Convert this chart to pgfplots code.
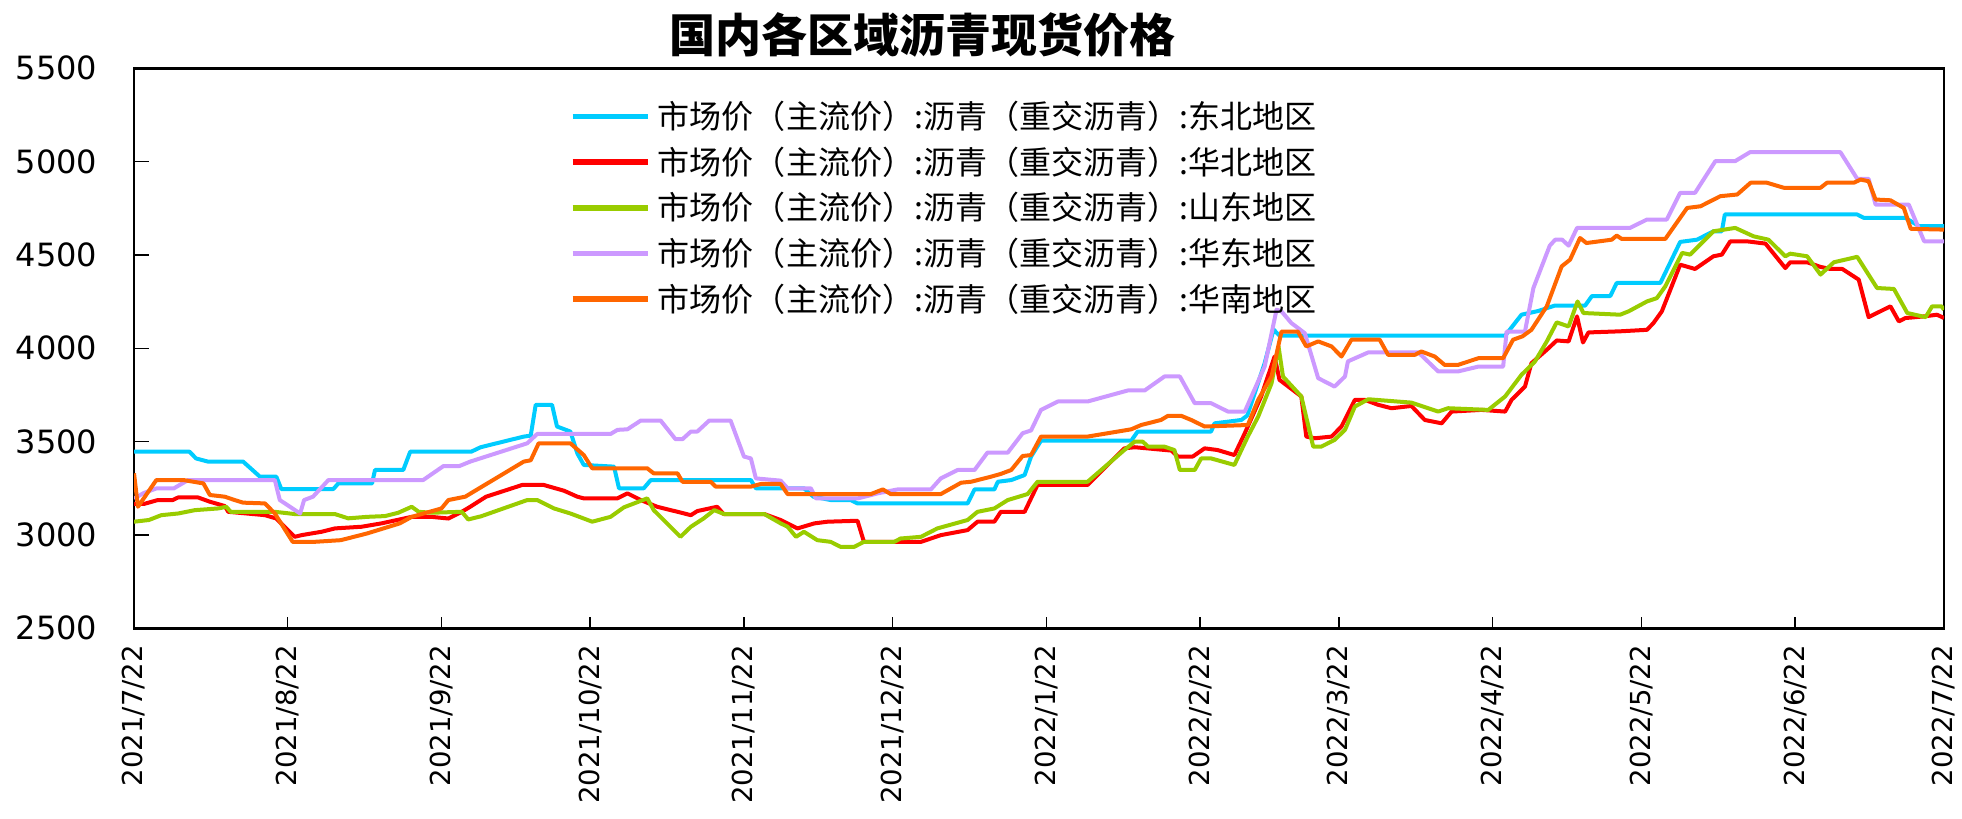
\documentclass[border=0pt]{standalone}
\usepackage{fontspec}
\setmainfont{DejaVu Sans}
\newfontfamily\cjk{Noto Sans CJK SC}
\usepackage{pgfplots}
\pgfplotsset{compat=1.18}
\definecolor{cNE}{RGB}{0,204,255}
\definecolor{cNC}{RGB}{255,0,0}
\definecolor{cSD}{RGB}{153,204,0}
\definecolor{cEC}{RGB}{204,153,255}
\definecolor{cSC}{RGB}{255,102,0}
\begin{document}
\begin{tikzpicture}
\path[use as bounding box] (-53.55pt,-75.95pt) rectangle (730.45pt,251.05pt);
\begin{axis}[
  at={(0pt,0pt)}, anchor=south west,
  scale only axis, width=723.25pt, height=223.75pt,
  xmin=0, xmax=365, ymin=2500, ymax=5500,
  xtick={0,31,62,92,123,153,184,215,243,274,304,335,365},
  xticklabels={2021/7/22,2021/8/22,2021/9/22,2021/10/22,2021/11/22,2021/12/22,2022/1/22,2022/2/22,2022/3/22,2022/4/22,2022/5/22,2022/6/22,2022/7/22},
  ytick={2500,3000,3500,4000,4500,5000,5500},
  scaled y ticks=false,
  /pgf/number format/.cd, 1000 sep={}, assume math mode=true, /pgfplots/.cd,
  tick align=inside, tick pos=left,
  xtick style={/pgfplots/major tick length=4.4pt, line width=0.6pt, black},
  ytick style={/pgfplots/major tick length=6pt, line width=0.6pt, black},
  axis line style={line width=1pt, black},
  xticklabel style={font=\fontsize{11}{13}\selectfont, rotate=90, anchor=east, inner sep=0pt},
  xticklabel shift=6.5pt,
  yticklabel style={font=\fontsize{12.8}{14}\selectfont, anchor=east, inner sep=0pt},
  yticklabel shift=14.5pt,
  title={国内各区域沥青现货价格},
  title style={at={(0.4355,1)}, anchor=base, yshift=0.3pt, inner sep=0pt, font=\cjk\bfseries\fontsize{18.4}{20}\selectfont},
  legend cell align=left,
  legend style={at={(0.2405,1)}, anchor=north west, yshift=-9.9pt, draw=none, fill=none, inner sep=0pt,
    row sep=0pt, column sep=3pt, font=\cjk\fontsize{12.8}{14}\selectfont,
    nodes={inner sep=0pt, text height=14pt, text depth=4.25pt}},
  legend image code/.code={\draw[#1, line width=2.2pt, line cap=butt] (0pt,0pt) -- (30pt,0pt);},
  every axis plot/.append style={line width=1.6pt, line join=round},
]
% 东北地区
\addplot[cNE] coordinates {(0,3446) (11.2,3446) (12.5,3410) (14.9,3393) (22,3393) (25.4,3312) (28.7,3312) (29.7,3246) (40.2,3246) (41.2,3276) (48,3276) (48.6,3348) (54.3,3348) (55.7,3446) (68,3446) (69.9,3470) (78.6,3527) (80,3532) (81,3697) (84.3,3697) (85.3,3581) (88,3554) (89.4,3437) (90.7,3375) (96.8,3366) (97.8,3250) (102.8,3250) (104.2,3294) (124.4,3294) (125.4,3250) (135.1,3250) (137,3205) (140.5,3187) (144.5,3187) (145.9,3169) (168.1,3169) (169.5,3244) (173.5,3244) (174.2,3285) (176.9,3294) (179.6,3321) (180.9,3420) (182.9,3505) (201.1,3505) (202.4,3554) (217.2,3554) (217.9,3598) (223.3,3616) (224.5,3640) (228,3920) (229.8,4100) (231,4068) (276.5,4068) (279.8,4180) (283.2,4200) (286.4,4228) (292.6,4228) (294,4280) (297.7,4280) (299,4350) (307.8,4350) (311.8,4570) (315.2,4582) (318.5,4627) (320.2,4627) (320.8,4717) (347.5,4717) (348.8,4699) (357.2,4699) (360,4654) (365,4654)};
\addlegendentry{市场价（主流价）:沥青（重交沥青）:东北地区}
% 华北地区
\addplot[cNC] coordinates {(0,3166) (2,3166) (4.8,3187) (7.8,3187) (8.9,3201) (12.9,3201) (15.3,3178) (18.3,3155) (19,3124) (26.4,3106) (28.7,3088) (32.4,2990) (33.8,2999) (37.8,3017) (40.5,3035) (45.9,3044) (49.9,3062) (56,3097) (60,3097) (63.4,3088) (66.1,3124) (67.8,3151) (71,3205) (78.3,3268) (82.6,3268) (86.7,3237) (89.4,3205) (90.7,3196) (97.5,3196) (99.5,3223) (102.2,3187) (105.5,3151) (109.6,3124) (112.3,3106) (113.6,3128) (117.6,3151) (118.9,3112) (127.1,3112) (130.4,3080) (133.8,3035) (137.2,3062) (139.9,3071) (145.9,3076) (147.2,2963) (158.7,2963) (162.7,2999) (168.1,3026) (170.1,3071) (173.5,3071) (174.8,3124) (179.6,3124) (182.2,3268) (192.3,3268) (199.7,3464) (201.8,3470) (209.2,3452) (210.5,3420) (213.5,3420) (215.9,3464) (218.5,3455) (221.9,3428) (224,3545) (227.3,3742) (230,3956) (231,3831) (235.4,3742) (236.4,3527) (238.1,3518) (241.5,3527) (243.5,3581) (246.2,3724) (248.2,3724) (250.9,3697) (253.6,3679) (257.6,3691) (260.3,3616) (263.7,3598) (265.7,3661) (271.7,3670) (276.5,3661) (277.8,3724) (280.5,3795) (281.8,3920) (284.9,3992) (286.9,4042) (289.3,4037) (291,4171) (292.2,4031) (293.3,4085) (299.7,4091) (305.1,4099) (306.4,4135) (308.1,4198) (311.8,4448) (314.8,4425) (318.5,4493) (320.2,4502) (321.9,4573) (325.3,4573) (329,4561) (333,4430) (334,4461) (337.4,4461) (340.1,4436) (342.1,4425) (344.5,4425) (347.8,4368) (349.8,4167) (354.2,4225) (355.9,4144) (357.2,4162) (361,4171) (363.6,4180) (365,4162)};
\addlegendentry{市场价（主流价）:沥青（重交沥青）:华北地区}
% 山东地区
\addplot[cSD] coordinates {(0,3071) (3,3080) (5.5,3106) (8.9,3115) (12.3,3133) (17,3142) (18.6,3151) (19.5,3124) (28.4,3124) (32.4,3112) (40.5,3112) (43.2,3089) (47,3097) (50.6,3101) (53.3,3119) (56,3151) (57.4,3124) (60,3119) (66.1,3124) (67.4,3083) (70,3100) (79.3,3187) (81.3,3187) (84.7,3142) (88,3115) (92.4,3071) (96.1,3097) (98.8,3148) (103.5,3196) (104.8,3133) (110.2,2990) (112.3,3044) (114.9,3089) (117,3133) (119,3112) (127.1,3112) (130.4,3062) (131.8,3044) (133.5,2990) (135.1,3017) (137.8,2972) (140.5,2963) (142.5,2936) (145.2,2936) (147.2,2963) (153.3,2963) (154.6,2981) (158.7,2990) (162,3035) (168.1,3080) (170.1,3124) (173.5,3142) (176.2,3187) (180.2,3219) (182.2,3285) (192.3,3285) (199.7,3455) (201.8,3500) (203.4,3500) (204.5,3473) (207.8,3473) (209.8,3455) (210.9,3348) (213.9,3348) (215.2,3410) (217.2,3410) (221.9,3375) (224.6,3527) (226.7,3634) (229.4,3813) (230.8,4010) (231.7,3849) (235.4,3742) (237.8,3473) (239.4,3473) (242.1,3509) (244.2,3563) (246.2,3688) (248.9,3727) (257.6,3709) (263,3661) (265,3679) (273.1,3670) (276.5,3742) (279.8,3858) (282.5,3929) (284.9,4037) (286.9,4139) (289.3,4117) (291.1,4251) (292.3,4189) (299.7,4180) (301.4,4198) (305.1,4251) (307.1,4269) (308.8,4332) (312.2,4511) (313.8,4502) (318.5,4627) (322.9,4645) (326.6,4600) (329.6,4582) (333,4493) (334,4507) (337.4,4493) (340.1,4395) (342.8,4461) (347.5,4490) (351.5,4323) (354.9,4318) (357.6,4189) (361.3,4167) (362.6,4225) (364.5,4225) (365,4207)};
\addlegendentry{市场价（主流价）:沥青（重交沥青）:山东地区}
% 华东地区
\addplot[cEC] coordinates {(0,3195) (2,3225) (4.5,3249) (8,3249) (10.9,3294) (28.4,3294) (29.4,3187) (33.5,3115) (34.3,3187) (36.1,3205) (39.2,3294) (58.3,3294) (62.4,3369) (65.6,3369) (67.8,3393) (79.3,3491) (81.3,3541) (96.1,3541) (97.5,3563) (99.5,3566) (102.2,3613) (106.2,3613) (109.2,3513) (110.6,3513) (112.3,3554) (113.6,3554) (116,3613) (120.3,3613) (123,3420) (124.4,3410) (125.4,3303) (130.4,3291) (131.8,3250) (136.5,3250) (137.5,3196) (146,3196) (150,3223) (154,3244) (160.7,3244) (162.7,3303) (166.1,3348) (169.5,3348) (172.1,3441) (176.2,3441) (179.2,3545) (180.9,3560) (182.9,3670) (186.3,3715) (192.3,3715) (200.4,3774) (203.8,3774) (207.8,3849) (210.9,3849) (213.9,3706) (217.2,3706) (220.6,3661) (224,3661) (228,3902) (230.4,4207) (231.4,4198) (233.4,4135) (236.1,4081) (238.8,3840) (242.1,3795) (244.2,3849) (244.8,3930) (248.9,3978) (259,3978) (263,3876) (267,3876) (271.1,3902) (276.1,3902) (276.8,4090) (280.5,4090) (282.2,4323) (285.5,4550) (286.6,4582) (288,4582) (289.3,4550) (291,4645) (301.7,4645) (305.1,4690) (309.1,4690) (311.8,4833) (314.8,4833) (318.9,5003) (322.9,5003) (325.9,5051) (344.1,5051) (347.5,4908) (349.8,4908) (351.2,4770) (357.9,4770) (361,4573) (365,4573)};
\addlegendentry{市场价（主流价）:沥青（重交沥青）:华东地区}
% 华南地区
\addplot[cSC] coordinates {(0,3330) (0.8,3151) (4.5,3294) (10,3294) (14,3276) (15.3,3214) (18.3,3205) (20.3,3187) (22,3173) (26.4,3169) (28.4,3115) (32,2963) (36.3,2963) (41.7,2972) (47,3008) (53.6,3062) (56,3097) (62,3142) (63.4,3187) (66.8,3205) (68.8,3237) (78.6,3393) (80,3400) (81.6,3491) (88,3491) (90.7,3428) (92.4,3357) (103.5,3357) (104.8,3330) (109.6,3330) (110.6,3285) (116.3,3285) (117.3,3259) (124.4,3259) (126.4,3273) (130.4,3273) (131.8,3219) (148.6,3219) (151,3244) (152.6,3219) (162.7,3219) (166.8,3280) (168.8,3285) (172.8,3312) (174.8,3327) (176.9,3348) (179.2,3423) (180.9,3428) (182.9,3527) (192.3,3527) (201.1,3566) (203.1,3589) (207.1,3616) (208.5,3638) (211.2,3638) (213.2,3616) (215.9,3581) (224.6,3589) (226.7,3724) (229.4,3849) (231.4,4090) (234.7,4090) (236.4,4010) (238.8,4037) (241.5,4010) (243.5,3956) (245.5,4046) (251.2,4046) (252.9,3965) (258.3,3965) (259.6,3983) (262.3,3956) (264.3,3911) (267,3911) (271.1,3947) (276.1,3947) (278.1,4046) (280,4064) (281.8,4099) (284.9,4225) (287.9,4439) (289.6,4475) (291.6,4591) (292.9,4564) (298,4582) (299,4604) (300,4586) (308.8,4586) (313.2,4752) (315.9,4761) (319.9,4815) (323.3,4824) (326,4887) (329.3,4887) (332.7,4860) (340.1,4860) (341.4,4887) (346.8,4887) (348.2,4904) (349.8,4895) (351.2,4797) (354.2,4793) (356.9,4752) (358.3,4640) (365,4636)};
\addlegendentry{市场价（主流价）:沥青（重交沥青）:华南地区}
\end{axis}
\end{tikzpicture}
\end{document}
